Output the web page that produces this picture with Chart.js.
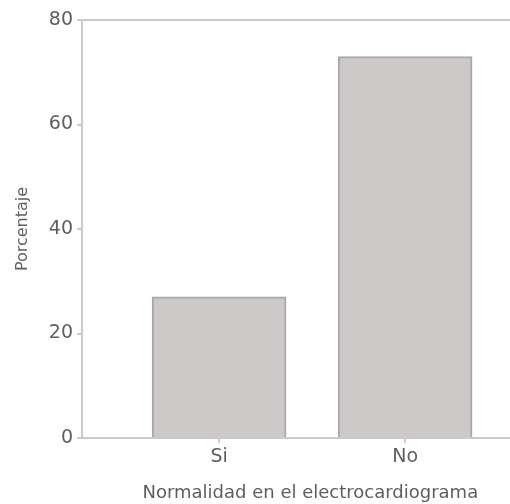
<!DOCTYPE html>
<html><head><meta charset="utf-8">
<script src="https://cdn.jsdelivr.net/npm/chart.js@4"></script>
<style>html,body{margin:0;padding:0;background:#fff}#wrap{width:510px;height:504px}</style>
</head><body><div id="wrap"><canvas id="c"></canvas></div>
<script>
const categories = ['Si', 'No'];
const percentages = [27, 73];
const yTicks = [0, 20, 40, 60, 80];

const textColor = '#625c5d';
const lineColor = '#cdc9ca';
const font = 'DejaVu Sans';

new Chart(document.getElementById('c'), {
  type: 'bar',
  data: {
    datasets: [{
      data: categories.map((c, i) => ({x: i + 1, y: percentages[i]})),
      backgroundColor: '#cdc9c9',
      borderColor: '#aba6a7',
      borderWidth: 2,
      borderSkipped: 'bottom',
      barThickness: 134
    }]
  },
  options: {
    responsive: true,
    maintainAspectRatio: false,
    animation: false,
    layout: {padding: {top: 20, right: 0, left: 0, bottom: 0}},
    plugins: {legend: {display: false}, tooltip: {enabled: false}},
    scales: {
      x: {
        type: 'linear',
        offset: false,
        min: 0.263, max: 2.564,
        afterBuildTicks: s => { s.ticks = categories.map((c, i) => ({value: i + 1})); },
        afterFit: s => { s.height = 66; },
        ticks: {
          callback: v => categories[v - 1],
          color: textColor, font: {family: font, size: 19}, padding: 3, maxRotation: 0,
          autoSkip: false
        },
        grid: {offset: false, drawOnChartArea: false, tickLength: 5, tickColor: lineColor, lineWidth: 2},
        border: {color: lineColor, width: 2},
        title: {display: true, text: '\u00a0\u00a0\u00a0\u00a0\u00a0Normalidad en el electrocardiograma', color: textColor,
                font: {family: font, size: 18}, padding: {top: 4, bottom: 0}}
      },
      y: {
        min: 0, max: 80,
        afterBuildTicks: s => { s.ticks = yTicks.map(v => ({value: v})); },
        afterFit: s => { s.width = 82; },
        ticks: {color: textColor, font: {family: font, size: 19}, padding: 4},
        grid: {
          color: c => (c.tick && c.tick.value === 80) ? lineColor : 'transparent',
          tickColor: lineColor, tickLength: 5, lineWidth: 2
        },
        border: {color: lineColor, width: 2},
        title: {display: true, text: 'Porcentaje', color: textColor,
                font: {family: font, size: 16}, padding: {top: 13, bottom: 0}}
      }
    }
  }
});
</script></body></html>
